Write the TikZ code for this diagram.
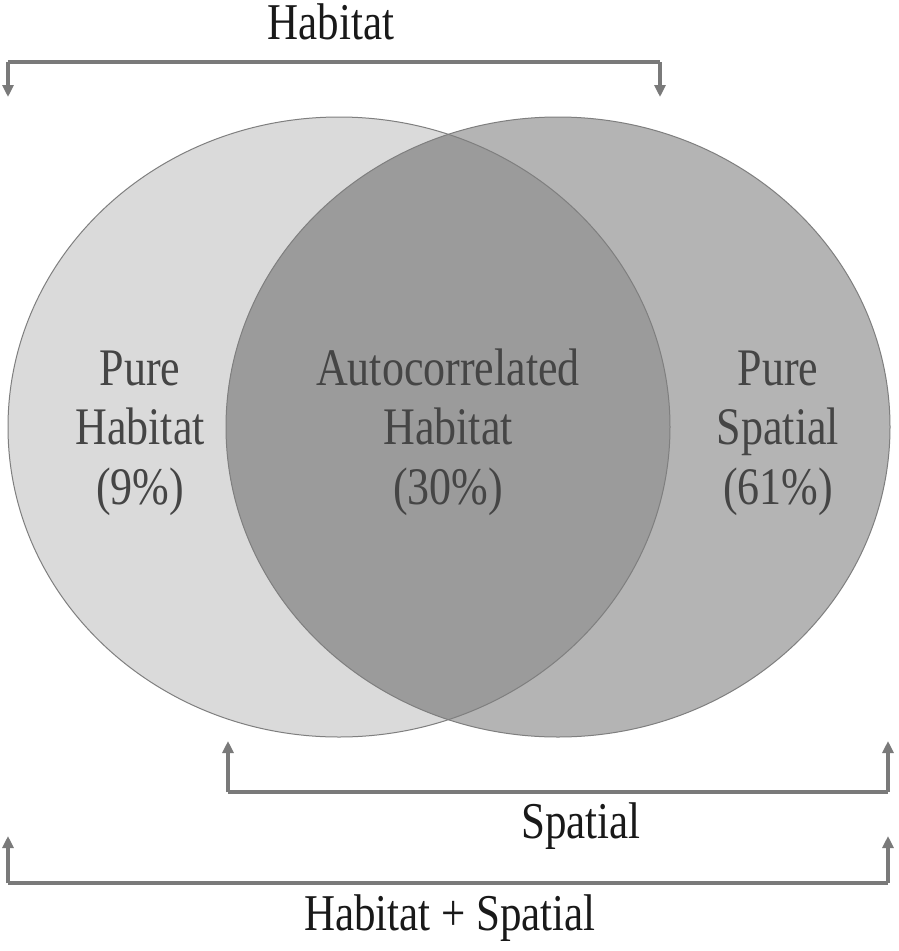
\documentclass[tikz,border=0pt]{standalone}
\usepackage{fontspec}
\setmainfont{Liberation Serif}
\usetikzlibrary{arrows.meta}
\definecolor{lightfill}{HTML}{DADADA}
\definecolor{rightfill}{HTML}{B4B4B4}
\definecolor{midfill}{HTML}{9B9B9B}
\definecolor{edgegray}{HTML}{7F7F7F}
\definecolor{linegray}{HTML}{7A7A7A}
\definecolor{intext}{HTML}{454545}
\begin{document}
\begin{tikzpicture}[x=1pt,y=-1pt,
  venntext/.style={align=center,text=intext,font=\fontsize{44}{49.5}\selectfont,inner sep=0pt},
  labeltext/.style={text=black!90,font=\fontsize{43}{47}\selectfont,inner sep=0pt},
  bracket/.style={draw=linegray,line width=3.2pt,-{Triangle[width=11pt,length=12pt]}},
  bracketline/.style={draw=linegray,line width=3.2pt}]
\useasboundingbox (0,0) rectangle (898,951);
\fill[white] (0,0) rectangle (898,951);
% ellipses
\fill[lightfill] (339,427) ellipse [x radius=331pt, y radius=310pt];
\fill[rightfill] (558,427) ellipse [x radius=332pt, y radius=310pt];
\begin{scope}
\clip (339,427) ellipse [x radius=331pt, y radius=310pt];
\fill[midfill] (558,427) ellipse [x radius=332pt, y radius=310pt];
\end{scope}
\draw[edgegray,line width=1pt] (339,427) ellipse [x radius=331pt, y radius=310pt];
\draw[edgegray,line width=1pt] (558,427) ellipse [x radius=332pt, y radius=310pt];
% texts inside
\node[venntext] (ph) at (140,433) {\scalebox{1}[1.2]{\begin{tabular}{@{}c@{}}Pure\\Habitat\\(9\%)\end{tabular}}};
\node[venntext] (ah) at (448,433) {\scalebox{1}[1.2]{\begin{tabular}{@{}c@{}}Autocorrelated\\Habitat\\(30\%)\end{tabular}}};
\node[venntext] (ps) at (778,433) {\scalebox{1}[1.2]{\begin{tabular}{@{}c@{}}Pure\\Spatial\\(61\%)\end{tabular}}};
% labels
\node[labeltext] (lh) at (331,22) {\scalebox{1}[1.2]{Habitat}};
\node[labeltext] (ls) at (581,826) {\scalebox{1}[1.2]{Spatial}};
\node[labeltext] (lhs) at (450,918) {\scalebox{1}[1.2]{Habitat + Spatial}};
% bracket coordinates
\coordinate (h1) at (8,62);
\coordinate (h2) at (660,62);
\coordinate (h1e) at (8,97);
\coordinate (h2e) at (660,97);
\coordinate (s1) at (228,792);
\coordinate (s2) at (888,792);
\coordinate (s1e) at (228,741);
\coordinate (s2e) at (888,741);
\coordinate (b1) at (8,883);
\coordinate (b2) at (888,883);
\coordinate (b1e) at (8,836);
\coordinate (b2e) at (888,836);
% brackets
\draw[bracketline] (h1) -- (h2);
\draw[bracket] (h1) -- (h1e);
\draw[bracket] (h2) -- (h2e);
\draw[bracketline] (s1) -- (s2);
\draw[bracket] (s1) -- (s1e);
\draw[bracket] (s2) -- (s2e);
\draw[bracketline] (b1) -- (b2);
\draw[bracket] (b1) -- (b1e);
\draw[bracket] (b2) -- (b2e);
\end{tikzpicture}
\end{document}
